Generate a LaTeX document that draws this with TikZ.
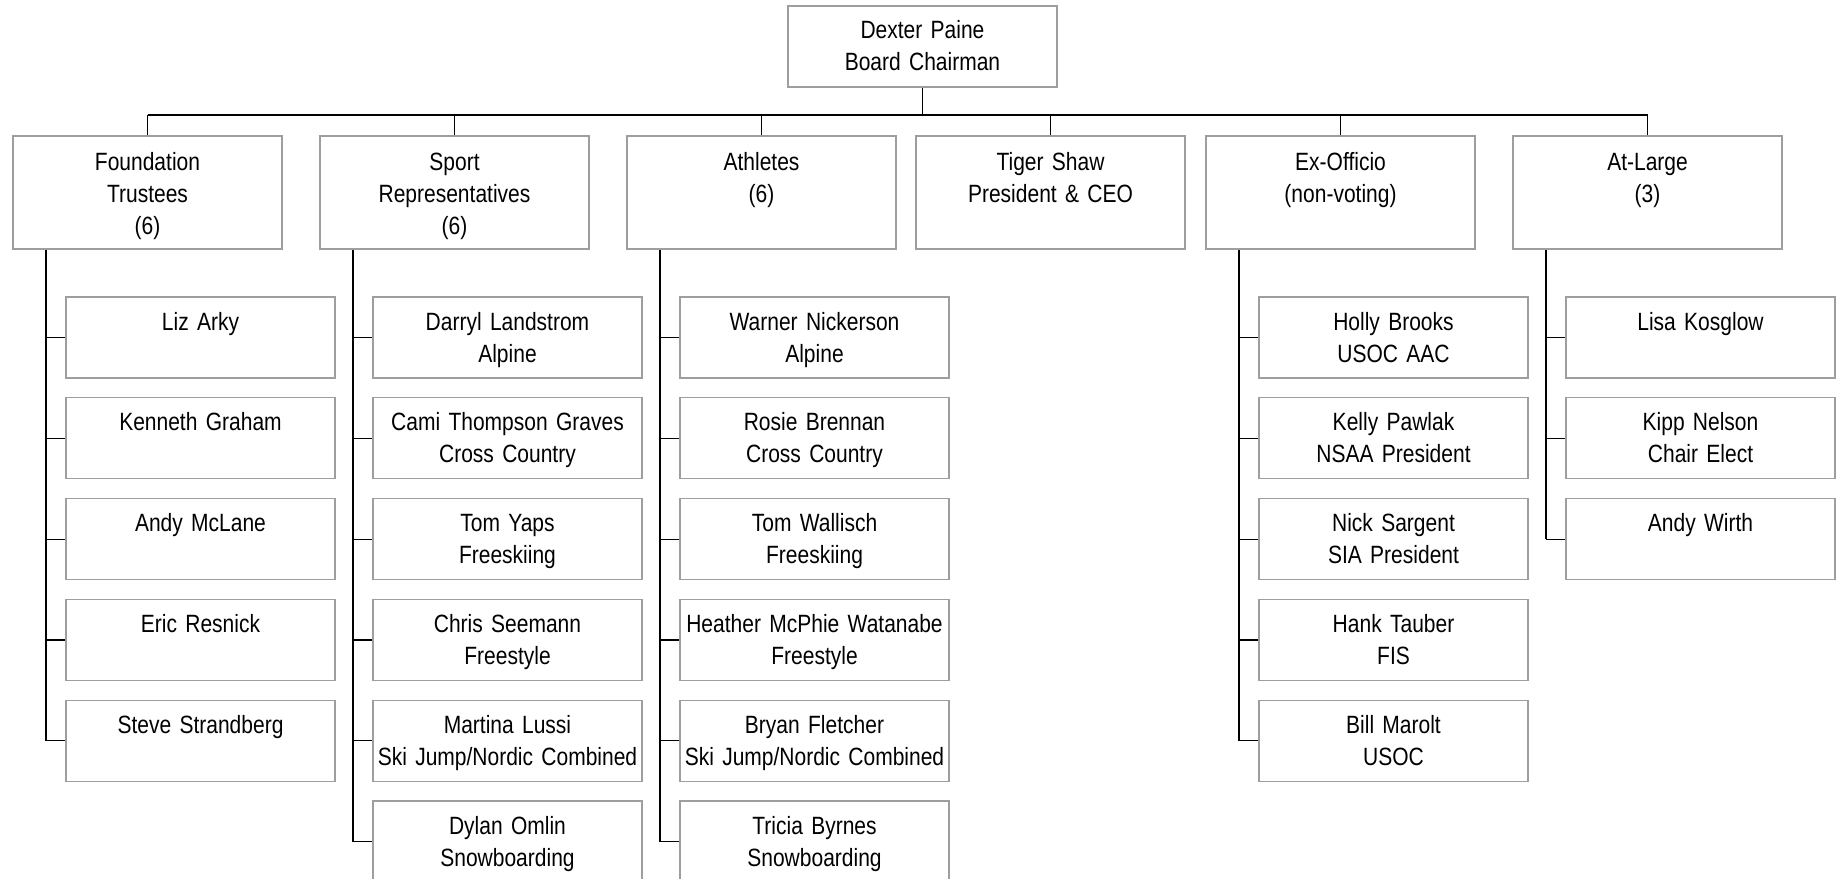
\documentclass[tikz,border=0pt]{standalone}
\usepackage{fontspec}
\setmainfont{Liberation Sans}[FakeStretch=0.84]
\usetikzlibrary{positioning}
\definecolor{boxgray}{RGB}{158,158,158}

\begin{document}
\begin{tikzpicture}[on grid, font=\fontsize{12.5pt}{16pt}\selectfont,
		box/.style={draw=boxgray, line width=0.65pt, text width=134.5pt, align=center, inner sep=0pt, text height=16.5pt, text depth=24pt},
		lvl/.style={box, text height=17pt, text depth=39.5pt},
		link/.style={draw=black, line width=0.6pt},
		bus/.style={draw=black, line width=0.9pt}]
		\useasboundingbox (0,0) rectangle (920pt,-439pt);
		
		\node[box]   (T)     at (461.25pt,-23.25pt) {Dexter Paine\\Board Chairman};
		
		\node[lvl]   (B_1)   [below left=73pt and 387.5pt of T] {Foundation\\Trustees\\(6)};
		\node[lvl]   (B_2)   [right=153.5pt of B_1] {Sport\\Representatives\\(6)};
		\node[lvl]   (B_3)   [right=153.5pt of B_2] {Athletes\\(6)};
		\node[lvl]   (B_4)   [right=144.5pt of B_3] {Tiger Shaw\\President \& CEO};
		\node[lvl]   (B_5)   [right=145pt of B_4] {Ex-Officio\\(non-voting)};
		\node[lvl]   (B_6)   [right=153.5pt of B_5] {At-Large\\(3)};
		
		% Foundation Trustees
		\node[box]   (C_1_1) [below right=72.5pt and 26.5pt of B_1] {Liz Arky};
		\node[box]   (C_1_2) [below=50.4pt of C_1_1] {Kenneth Graham};
		\node[box]   (C_1_3) [below=50.4pt of C_1_2] {Andy McLane};
		\node[box]   (C_1_4) [below=50.4pt of C_1_3] {Eric Resnick};
		\node[box]   (C_1_5) [below=50.4pt of C_1_4] {Steve Strandberg};
		
		% Sport Representatives
		\node[box]   (C_2_1) [below right=72.5pt and 26.5pt of B_2] {Darryl Landstrom\\Alpine};
		\node[box]   (C_2_2) [below=50.4pt of C_2_1] {Cami Thompson Graves\\Cross Country};
		\node[box]   (C_2_3) [below=50.4pt of C_2_2] {Tom Yaps\\Freeskiing};
		\node[box]   (C_2_4) [below=50.4pt of C_2_3] {Chris Seemann\\Freestyle};
		\node[box]   (C_2_5) [below=50.4pt of C_2_4] {Martina Lussi\\Ski Jump/Nordic Combined};
		\node[box]   (C_2_6) [below=50.4pt of C_2_5] {Dylan Omlin\\Snowboarding};
		
		% Athletes
		\node[box]   (C_3_1) [below right=72.5pt and 26.5pt of B_3] {Warner Nickerson\\Alpine};
		\node[box]   (C_3_2) [below=50.4pt of C_3_1] {Rosie Brennan\\Cross Country};
		\node[box]   (C_3_3) [below=50.4pt of C_3_2] {Tom Wallisch\\Freeskiing};
		\node[box]   (C_3_4) [below=50.4pt of C_3_3] {Heather McPhie Watanabe\\Freestyle};
		\node[box]   (C_3_5) [below=50.4pt of C_3_4] {Bryan Fletcher\\Ski Jump/Nordic Combined};
		\node[box]   (C_3_6) [below=50.4pt of C_3_5] {Tricia Byrnes\\Snowboarding};
		
		% Ex-Officio
		\node[box]   (C_5_1) [below right=72.5pt and 26.5pt of B_5] {Holly Brooks\\USOC AAC};
		\node[box]   (C_5_2) [below=50.4pt of C_5_1] {Kelly Pawlak\\NSAA President};
		\node[box]   (C_5_3) [below=50.4pt of C_5_2] {Nick Sargent\\SIA President};
		\node[box]   (C_5_4) [below=50.4pt of C_5_3] {Hank Tauber\\FIS};
		\node[box]   (C_5_5) [below=50.4pt of C_5_4] {Bill Marolt\\USOC};
		
		% At-Large
		\node[box]   (C_6_1) [below right=72.5pt and 26.5pt of B_6] {Lisa Kosglow};
		\node[box]   (C_6_2) [below=50.4pt of C_6_1] {Kipp Nelson\\Chair Elect};
		\node[box]   (C_6_3) [below=50.4pt of C_6_2] {Andy Wirth};
		
		% bus under the chairman
		\coordinate (bus) at ([yshift=-13.5pt]T.south);
		\draw[link] (T) -- (bus);
		\draw[bus] (bus -| B_1) -- (bus -| B_6);
		\path[link] (bus -| B_1) edge (B_1)
		(bus -| B_2) edge (B_2)
		(bus -| B_3) edge (B_3)
		(bus -| B_4) edge (B_4)
		(bus -| B_5) edge (B_5)
		(bus -| B_6) edge (B_6);
		
		% trunks
		\coordinate (t_1) at ([xshift=-50.75pt]B_1.south);
		\coordinate (t_2) at ([xshift=-50.75pt]B_2.south);
		\coordinate (t_3) at ([xshift=-50.75pt]B_3.south);
		\coordinate (t_5) at ([xshift=-50.75pt]B_5.south);
		\coordinate (t_6) at ([xshift=-50.75pt]B_6.south);
		\draw[link] (t_1) -- (t_1 |- C_1_5);
		\draw[link] (t_2) -- (t_2 |- C_2_6);
		\draw[link] (t_3) -- (t_3 |- C_3_6);
		\draw[link] (t_5) -- (t_5 |- C_5_5);
		\draw[link] (t_6) -- (t_6 |- C_6_3);
		
		\path[link] (t_1 |- C_1_1) edge (C_1_1)
		(t_1 |- C_1_2) edge (C_1_2)
		(t_1 |- C_1_3) edge (C_1_3)
		(t_1 |- C_1_4) edge (C_1_4)
		(t_1 |- C_1_5) edge (C_1_5)
		(t_2 |- C_2_1) edge (C_2_1)
		(t_2 |- C_2_2) edge (C_2_2)
		(t_2 |- C_2_3) edge (C_2_3)
		(t_2 |- C_2_4) edge (C_2_4)
		(t_2 |- C_2_5) edge (C_2_5)
		(t_2 |- C_2_6) edge (C_2_6)
		(t_3 |- C_3_1) edge (C_3_1)
		(t_3 |- C_3_2) edge (C_3_2)
		(t_3 |- C_3_3) edge (C_3_3)
		(t_3 |- C_3_4) edge (C_3_4)
		(t_3 |- C_3_5) edge (C_3_5)
		(t_3 |- C_3_6) edge (C_3_6)
		(t_5 |- C_5_1) edge (C_5_1)
		(t_5 |- C_5_2) edge (C_5_2)
		(t_5 |- C_5_3) edge (C_5_3)
		(t_5 |- C_5_4) edge (C_5_4)
		(t_5 |- C_5_5) edge (C_5_5)
		(t_6 |- C_6_1) edge (C_6_1)
		(t_6 |- C_6_2) edge (C_6_2)
		(t_6 |- C_6_3) edge (C_6_3);
	\end{tikzpicture}
\end{document}
